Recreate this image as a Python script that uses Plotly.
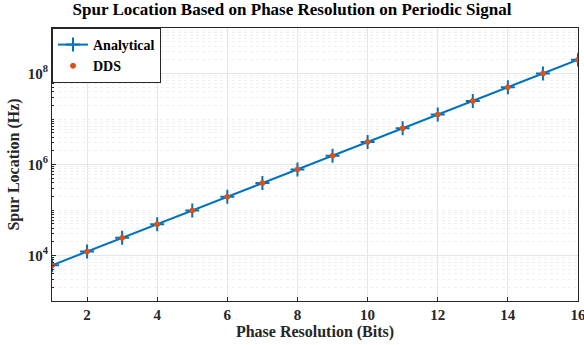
import plotly.graph_objects as go

bits = [1, 2, 3, 4, 5, 6, 7, 8, 9, 10, 11, 12, 13, 14, 15, 16]
analytical = [6103.52, 12207.03, 24414.06, 48828.13, 97656.25, 195312.5, 390625, 781250,
              1562500, 3125000, 6250000, 12500000, 25000000, 50000000, 100000000, 200000000]
dds = [6103.52, 12207.03, 24414.06, 48828.13, 97656.25, 195312.5, 390625, 781250,
       1562500, 3125000, 6250000, 12500000, 25000000, 50000000, 100000000, 200000000]
x_ticks = [2, 4, 6, 8, 10, 12, 14, 16]
y_ticks = [1e4, 1e6, 1e8]
y_tick_text = ["10<sup>4</sup>", "10<sup>6</sup>", "10<sup>8</sup>"]

font_family = "Liberation Serif, Times New Roman, serif"

fig = go.Figure()
fig.add_trace(go.Scatter(
    x=bits, y=analytical, name="<b>Analytical</b>", mode="lines+markers",
    line=dict(color="#0072BD", width=2),
    marker=dict(symbol="cross-thin", size=10, color="#0072BD",
                line=dict(width=2, color="#0072BD")),
))
fig.add_trace(go.Scatter(
    x=bits, y=dds, name="<b>DDS</b>", mode="markers",
    marker=dict(symbol="circle", size=5, color="#D95319",
                line=dict(width=1, color="#D95319")),
))

fig.update_layout(
    width=584, height=345,
    margin=dict(l=52, r=6, t=28, b=44),
    paper_bgcolor="white", plot_bgcolor="white",
    font=dict(family=font_family, color="#262626", size=15),
    title=dict(text="<b>Spur Location Based on Phase Resolution on Periodic Signal</b>",
               x=0.5, xanchor="center", y=0.99, yanchor="top",
               font=dict(size=17, color="black", family=font_family)),
    legend=dict(x=0.0, y=1.0, xanchor="left", yanchor="top",
                bgcolor="white", bordercolor="#262626", borderwidth=1,
                font=dict(size=14, color="black", family=font_family),
                tracegroupgap=0, itemwidth=30),
    showlegend=True,
)
fig.update_xaxes(
    range=[1, 16], tickvals=x_ticks, ticktext=[f"<b>{v}</b>" for v in x_ticks],
    showgrid=True, gridcolor="#e6e6e6", gridwidth=1,
    showline=True, linecolor="#262626", mirror=True, linewidth=1,
    ticks="inside", ticklen=4, tickcolor="#262626",
    zeroline=False, ticklabeloverflow="allow", automargin=False,
    title=dict(text="<b>Phase Resolution (Bits)</b>", font=dict(size=16, color="#262626"),
               standoff=2),
    tickfont=dict(size=15, color="#262626"),
)
fig.update_yaxes(
    type="log", range=[3, 9], tickvals=y_ticks, ticktext=[f"<b>{t}</b>" for t in y_tick_text],
    showgrid=True, gridcolor="#e6e6e6", gridwidth=1,
    minor=dict(showgrid=True, gridcolor="#f0f0f0", griddash="dot", ticks="inside",
               ticklen=2, tickcolor="#262626", dtick="D1"),
    showline=True, linecolor="#262626", mirror=True, linewidth=1,
    ticks="inside", ticklen=4, tickcolor="#262626",
    zeroline=False, automargin=False,
    title=dict(text="<b>Spur Location (Hz)</b>", font=dict(size=16, color="#262626"),
               standoff=4),
    tickfont=dict(size=15, color="#262626"),
)

fig.write_html("out.html")
